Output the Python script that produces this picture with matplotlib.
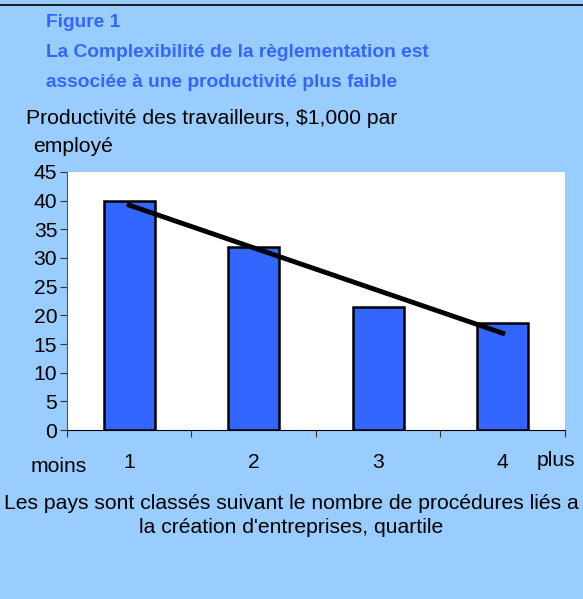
import matplotlib.pyplot as plt
import numpy as np

plt.rcParams['font.family'] = ['Liberation Sans', 'DejaVu Sans']

quartiles = [1, 2, 3, 4]
tick_labels = ['1', '2', '3', '4']
productivity = [40, 32, 21.5, 18.7]

bg = '#99ccff'
fs = 15.2
fig = plt.figure(figsize=(5.83, 5.99), dpi=100, facecolor=bg)
ax = fig.add_axes([0.1149, 0.2821, 0.969 - 0.1149, 0.7129 - 0.2821])

ax.bar(quartiles, productivity, width=0.41, color='#3366ff', edgecolor='black', linewidth=1.8, zorder=2)

# tendance linéaire
slope, intercept = np.polyfit(quartiles, productivity, 1)
x = np.array([quartiles[0], quartiles[-1]])
ax.plot(x, slope * x + intercept, color='black', linewidth=3.5, zorder=3)

ax.set_xlim(0.5, 4.5)
ax.set_ylim(0, 45)
ax.set_yticks(range(0, 46, 5))
ax.set_xticks([0.5, 1.5, 2.5, 3.5, 4.5])
ax.set_xticklabels([])
ax.tick_params(axis='both', direction='out', length=5, color='#333333', labelsize=fs)
ax.tick_params(axis='y', pad=2)
for q, lab in zip(quartiles, tick_labels):
    ax.text(q, -5.6, lab, ha='center', va='center', fontsize=fs)
ax.text(0.66, -6.3, 'moins', ha='right', va='center', fontsize=fs)
ax.text(4.275, -5.3, 'plus', ha='left', va='center', fontsize=fs, clip_on=False)

ax.spines['top'].set_visible(False)
ax.spines['right'].set_visible(False)
ax.spines['left'].set_color('#555555')
ax.spines['bottom'].set_color('black')

title_kw = dict(color='#3366ff', fontsize=13.8, fontweight='bold', va='center')
fig.text(0.079, 0.963, 'Figure 1', **title_kw)
fig.text(0.079, 0.913, 'La Complexibilité de la règlementation est', **title_kw)
fig.text(0.079, 0.863, 'associée à une productivité plus faible', **title_kw)
fig.text(0.045, 0.803, 'Productivité des travailleurs, $1,000 par', fontsize=fs, va='center')
fig.text(0.057, 0.756, 'employé', fontsize=fs, va='center')
fig.text(0.5, 0.140, "Les pays sont classés suivant le nombre de procédures liés a\nla création d'entreprises, quartile",
         fontsize=fs, ha='center', va='center', linespacing=1.35)

fig.add_artist(plt.Line2D([0, 1], [1 - 5 / 599, 1 - 5 / 599], color='black', linewidth=1.2))

fig.savefig('out.png', dpi=100, facecolor=bg)
